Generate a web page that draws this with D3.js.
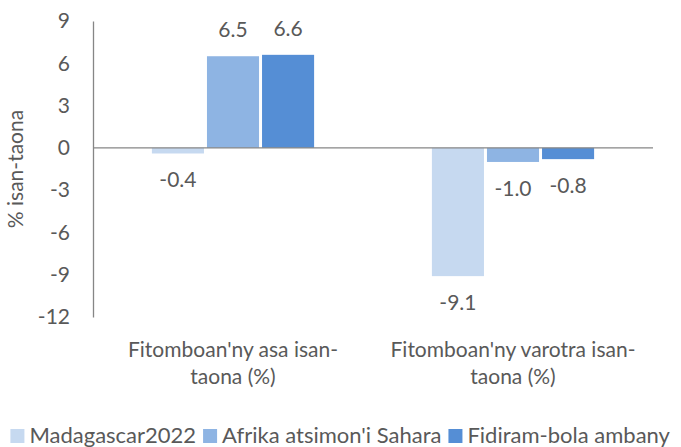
<!DOCTYPE html>
<html>
<head>
<meta charset="utf-8">
<script src="https://cdn.jsdelivr.net/npm/d3@7"></script>
<style>
  body { margin: 0; background: #fff; }
  text { font-family: Lato, "Open Sans", sans-serif; fill: #595959; }
</style>
</head>
<body>
<div id="chart"></div>
<script>
// chart data
var categories = ["Fitomboan'ny asa isan-taona (%)", "Fitomboan'ny varotra isan-taona (%)"];
var catLines = [["Fitomboan'ny asa isan-", "taona (%)"], ["Fitomboan'ny varotra isan-", "taona (%)"]];
var seriesNames = ["Madagascar2022", "Afrika atsimon'i Sahara", "Fidiram-bola ambany"];
var madagascar = [-0.4, -9.1];
var afrika = [6.5, -1.0];
var fidiram = [6.6, -0.8];
var yTicks = [9, 6, 3, 0, -3, -6, -9, -12];
var colors = ["#c6d9f0", "#8eb4e3", "#558ed5"];

var width = 681, height = 447;
var margin = {top: 21, right: 28, bottom: 130, left: 93};
var fs = "21px";

var svg = d3.select("#chart").append("svg")
    .attr("width", width)
    .attr("height", height);

var x0 = d3.scaleBand()
    .domain(categories)
    .range([margin.left, width - margin.right])
    .paddingInner(0.41)
    .paddingOuter(0.205);

var x1 = d3.scaleBand()
    .domain(seriesNames)
    .range([0, x0.bandwidth()]);

var y = d3.scaleLinear()
    .domain([-12, 9])
    .range([height - margin.bottom, margin.top]);

// y tick labels
var yAxis = d3.axisLeft(y).tickValues(yTicks).tickSize(0).tickPadding(23)
    .tickFormat(function(d) { return String(d); });
var gy = svg.append("g")
    .attr("transform", `translate(${margin.left},0)`)
    .call(yAxis);
gy.select(".domain").attr("stroke", "#868686").attr("stroke-width", 1.3);
gy.selectAll("text").style("font-size", fs).attr("fill", "#595959")
    .style("font-family", "Lato, sans-serif");

// bars
var rows = categories.map(function(c, i) {
    return [madagascar[i], afrika[i], fidiram[i]];
});

var groups = svg.selectAll(".grp")
    .data(rows)
  .enter().append("g")
    .attr("class", "grp")
    .attr("transform", function(d, i) { return `translate(${x0(categories[i])},0)`; });

groups.selectAll("rect")
    .data(function(d) { return d.map(function(v, j) { return {v: v, s: seriesNames[j], j: j}; }); })
  .enter().append("rect")
    .attr("x", function(d) { return x1(d.s) + 1.5; })
    .attr("width", x1.bandwidth() - 3)
    .attr("y", function(d) { return y(Math.max(0, d.v)); })
    .attr("height", function(d) { return Math.abs(y(d.v) - y(0)); })
    .attr("fill", function(d) { return colors[d.j]; });

groups.selectAll(".lbl")
    .data(function(d) { return d.map(function(v, j) { return {v: v, s: seriesNames[j]}; }); })
  .enter().append("text")
    .attr("class", "lbl")
    .attr("x", function(d) { return x1(d.s) + x1.bandwidth() / 2; })
    .attr("y", function(d) { return d.v >= 0 ? y(d.v) - 19 : y(d.v) + 34; })
    .attr("text-anchor", "middle")
    .style("font-size", fs)
    .text(function(d) { return d.v.toFixed(1); });

// zero line
svg.append("line")
    .attr("x1", margin.left).attr("x2", width - margin.right)
    .attr("y1", y(0)).attr("y2", y(0))
    .attr("stroke", "#868686").attr("stroke-width", 1.3);

// category labels
categories.forEach(function(c, i) {
    var t = svg.append("text")
        .attr("x", x0(c) + x0.bandwidth() / 2)
        .attr("y", 357)
        .attr("text-anchor", "middle")
        .style("font-size", fs);
    catLines[i].forEach(function(l, k) {
        t.append("tspan")
            .attr("x", x0(c) + x0.bandwidth() / 2)
            .attr("dy", k === 0 ? 0 : 27)
            .text(l);
    });
});

// y axis title
svg.append("text")
    .attr("transform", `translate(23,${y(-1.5)}) rotate(-90)`)
    .attr("text-anchor", "middle")
    .style("font-size", fs)
    .text("% isan-taona");

// legend, laid out from measured text widths
var legend = svg.append("g");
var items = legend.selectAll(".leg")
    .data(seriesNames)
  .enter().append("g")
    .attr("class", "leg");

items.append("rect")
    .attr("y", -14)
    .attr("width", 14).attr("height", 14)
    .attr("fill", function(d, i) { return colors[i]; });

items.append("text")
    .attr("x", 19).attr("y", 0)
    .style("font-size", "22px")
    .text(function(d) { return d; });

var pos = 0;
items.each(function() {
    var w = this.getBBox().width;
    d3.select(this).attr("transform", `translate(${pos},0)`);
    pos += w + 7;
});
legend.attr("transform", `translate(${(width - (pos - 7)) / 2},443)`);
</script>
</body>
</html>
